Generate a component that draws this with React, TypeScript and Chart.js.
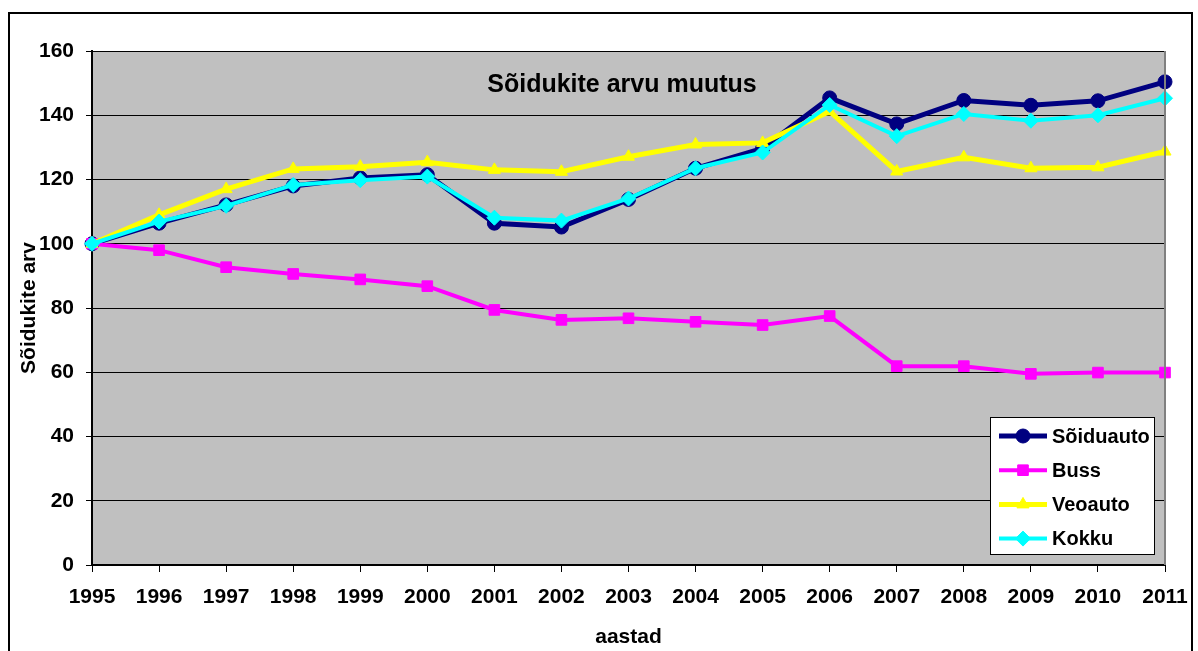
import React, { useEffect, useRef } from 'react';
import { Chart, registerables } from 'chart.js';
import { drawPoint } from 'chart.js/helpers';

Chart.register(...registerables);

const years = ['1995', '1996', '1997', '1998', '1999', '2000', '2001', '2002', '2003', '2004', '2005', '2006', '2007', '2008', '2009', '2010', '2011'];
const soiduauto = [100, 106.4, 112.1, 118.0, 120.5, 121.5, 106.4, 105.2, 113.8, 123.5, 129.7, 145.4, 137.3, 144.6, 143.1, 144.5, 150.4];
const buss = [100, 98.0, 92.7, 90.6, 88.9, 86.8, 79.4, 76.3, 76.8, 75.7, 74.7, 77.5, 61.9, 61.9, 59.5, 59.9, 59.9];
const veoauto = [100, 109.0, 117.0, 123.3, 124.0, 125.4, 123.0, 122.4, 127.1, 130.9, 131.4, 141.2, 122.5, 126.9, 123.5, 123.8, 128.7];
const kokku = [100, 106.9, 111.8, 118.3, 119.8, 120.9, 108.1, 107.2, 114.1, 123.5, 128.4, 143.2, 133.5, 140.4, 138.3, 140.0, 145.3];
const yTicksMin = 0;
const yTicksMax = 160;
const yTickStep = 20;

const chartTitle = 'Sõidukite arvu muutus';
const yTitle = 'Sõidukite arv';
const xTitle = 'aastad';

const FONT = 'Arial, "Liberation Sans", sans-serif';

export default function App() {
  const ref = useRef<HTMLCanvasElement>(null);

  useEffect(() => {
    if (!ref.current) return;

    const bgPlugin = {
      id: 'bg',
      beforeDraw(chart: any) {
        const { ctx, chartArea: a } = chart;
        ctx.save();
        ctx.fillStyle = '#ffffff';
        ctx.fillRect(0, 0, chart.width, chart.height);
        ctx.fillStyle = '#C0C0C0';
        ctx.fillRect(a.left, a.top, a.right - a.left, a.bottom - a.top);
        ctx.restore();
      },
    };

    const decorPlugin = {
      id: 'decor',
      afterDraw(chart: any) {
        const { ctx, chartArea: a } = chart;
        ctx.save();
        // right border of plot (gray)
        ctx.strokeStyle = '#808080';
        ctx.lineWidth = 2;
        ctx.beginPath();
        ctx.moveTo(a.right, a.top);
        ctx.lineTo(a.right, a.bottom);
        ctx.stroke();
        // outer frame
        ctx.strokeStyle = '#000000';
        ctx.lineWidth = 2;
        ctx.strokeRect(9, 13, 1183, 660);
        // title
        ctx.fillStyle = '#000000';
        ctx.font = `bold 25px ${FONT}`;
        ctx.textAlign = 'center';
        ctx.textBaseline = 'alphabetic';
        ctx.fillText(chartTitle, 622, 92);
        // legend
        const lx = 990, ly = 417, lw = 164, lh = 137;
        ctx.fillStyle = '#ffffff';
        ctx.fillRect(lx, ly, lw, lh);
        ctx.strokeStyle = '#000000';
        ctx.lineWidth = 1;
        ctx.strokeRect(lx + 0.5, ly + 0.5, lw, lh);
        const rowStart = 436;
        const rowStep = 34.2;
        chart.data.datasets.forEach((ds: any, i: number) => {
          const y = rowStart + i * rowStep;
          ctx.strokeStyle = ds.borderColor;
          ctx.lineWidth = ds.borderWidth;
          ctx.beginPath();
          ctx.moveTo(999, y);
          ctx.lineTo(1047, y);
          ctx.stroke();
          ctx.fillStyle = ds.backgroundColor;
          ctx.strokeStyle = ds.borderColor;
          ctx.lineWidth = 1;
          drawPoint(ctx, { pointStyle: ds.pointStyle, radius: ds.pointRadius, borderWidth: 1, rotation: 0 }, 1023, y);
          ctx.fillStyle = '#000000';
          ctx.font = `bold 20px ${FONT}`;
          ctx.textAlign = 'left';
          ctx.textBaseline = 'middle';
          ctx.fillText(ds.label, 1052, y + 1);
        });
        ctx.restore();
      },
    };

    const chart = new Chart(ref.current, {
      type: 'line',
      data: {
        labels: years,
        datasets: [
          {
            label: 'Sõiduauto',
            data: soiduauto,
            borderColor: '#000080',
            backgroundColor: '#000080',
            borderWidth: 5,
            pointStyle: 'circle',
            pointRadius: 7,
            pointBorderWidth: 1,
            tension: 0,
            clip: false,
            order: 3,
          },
          {
            label: 'Buss',
            data: buss,
            borderColor: '#FF00FF',
            backgroundColor: '#FF00FF',
            borderWidth: 4,
            pointStyle: 'rect',
            pointRadius: 7.5,
            pointBorderWidth: 1,
            tension: 0,
            clip: false,
            order: 2,
          },
          {
            label: 'Veoauto',
            data: veoauto,
            borderColor: '#FFFF00',
            backgroundColor: '#FFFF00',
            borderWidth: 5,
            pointStyle: 'triangle',
            pointRadius: 7,
            pointBorderWidth: 1,
            tension: 0,
            clip: false,
            order: 1,
          },
          {
            label: 'Kokku',
            data: kokku,
            borderColor: '#00FFFF',
            backgroundColor: '#00FFFF',
            borderWidth: 4,
            pointStyle: 'rectRot',
            pointRadius: 7.5,
            pointBorderWidth: 1,
            tension: 0,
            clip: false,
            order: 0,
          },
        ],
      },
      options: {
        responsive: false,
        animation: false,
        events: [],
        layout: { padding: { top: 51, right: 33, bottom: 0, left: 0 } },
        plugins: {
          legend: { display: false },
          title: { display: false },
          tooltip: { enabled: false },
        },
        scales: {
          x: {
            type: 'category',
            offset: false,
            grid: {
              drawOnChartArea: false,
              drawTicks: true,
              tickLength: 7,
              color: '#000000',
              lineWidth: 1,
            },
            border: { display: true, color: '#000000', width: 2 },
            ticks: {
              color: '#000000',
              font: { family: FONT, size: 21, weight: 'bold' },
              padding: 13,
              autoSkip: false,
              maxRotation: 0,
              minRotation: 0,
            },
            title: {
              display: true,
              text: xTitle,
              color: '#000000',
              font: { family: FONT, size: 21, weight: 'bold' },
              padding: { top: 0, bottom: 1 },
            },
            afterFit(scale: any) {
              scale.height = 86;
              scale.paddingLeft = 0;
              scale.paddingRight = 0;
            },
          },
          y: {
            min: yTicksMin,
            max: yTicksMax,
            grid: {
              drawOnChartArea: true,
              drawTicks: true,
              tickLength: 6,
              color: '#000000',
              lineWidth: 1,
            },
            border: { display: true, color: '#000000', width: 2 },
            ticks: {
              stepSize: yTickStep,
              color: '#000000',
              font: { family: FONT, size: 21, weight: 'bold' },
              padding: 12,
            },
            title: {
              display: true,
              text: yTitle,
              color: '#000000',
              font: { family: FONT, size: 21, weight: 'bold' },
              padding: { top: 17, bottom: 0 },
            },
            afterFit(scale: any) {
              scale.width = 92;
              scale.paddingTop = 0;
              scale.paddingBottom = 0;
            },
          },
        },
      },
      plugins: [bgPlugin, decorPlugin],
    } as any);

    return () => {
      chart.destroy();
    };
  }, []);

  return (
    <div style={{ position: 'fixed', left: 0, top: 0, width: 1198, height: 651, background: '#ffffff' }}>
      <canvas ref={ref} width={1198} height={651} style={{ display: 'block', width: 1198, height: 651 }} />
    </div>
  );
}
